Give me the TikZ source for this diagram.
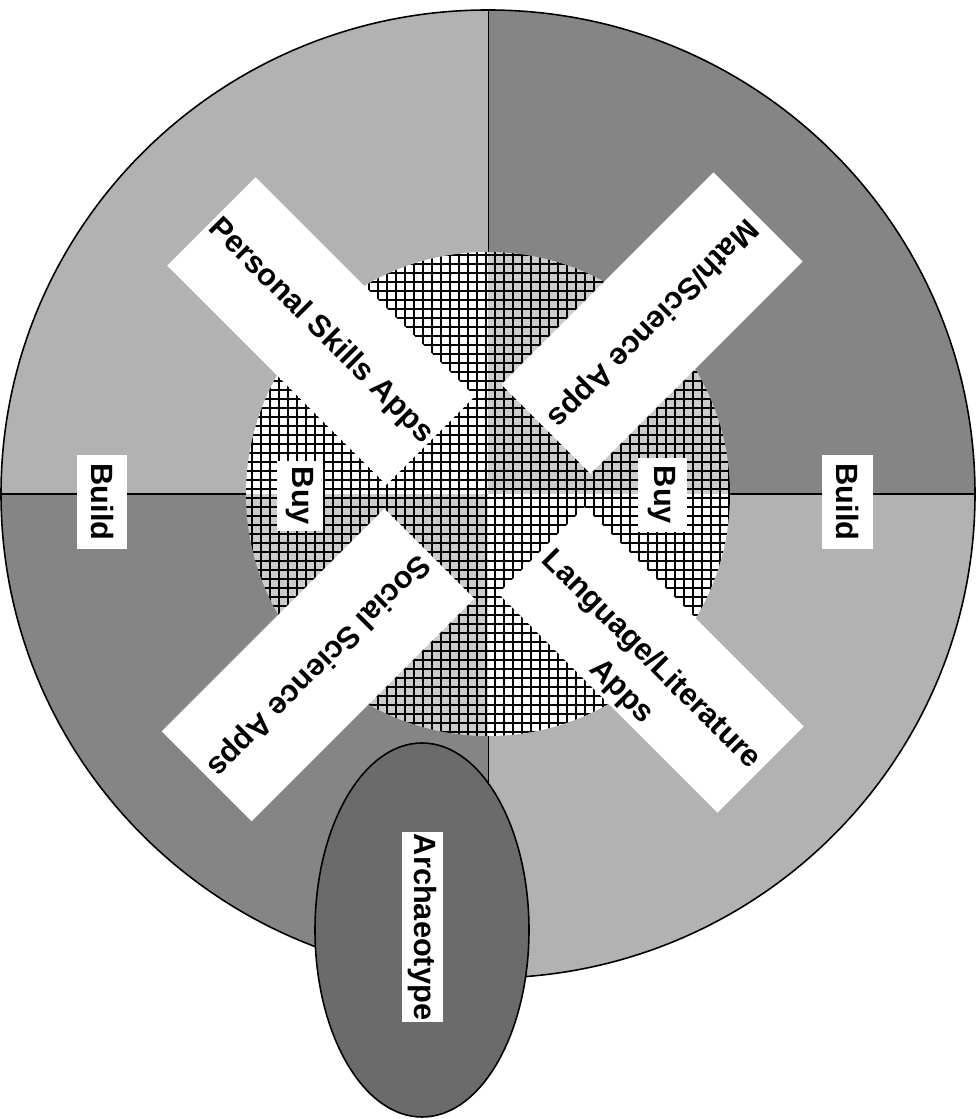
\documentclass[tikz,border=0pt]{standalone}
\usepackage{fontspec}
\setmainfont{Liberation Sans}
\usepackage{tikz}
\definecolor{lightshade}{gray}{0.70}
\definecolor{darkshade}{gray}{0.52}
\definecolor{dotshade}{gray}{0.80}
\definecolor{eggshade}{gray}{0.42}

\begin{document}
\begin{tikzpicture}[x=0.02cm, y=0.02cm,
    appbox/.style={fill=white, inner sep=0pt, font=\bfseries\fontsize{17.5}{20}\selectfont},
    tagbox/.style={fill=white, inner sep=0pt, rotate=-90, font=\bfseries\fontsize{17.5}{20}\selectfont}]
  \useasboundingbox (0,0) rectangle (977,1119);
  % Outer disc, four shaded quarters
  \coordinate (c) at (488,625);
  \begin{scope}
    \clip (c) ellipse [x radius=487, y radius=484];
    \fill[lightshade] (c) rectangle (0,1119);
    \fill[darkshade] (c) rectangle (977,1119);
    \fill[darkshade] (c) rectangle (0,0);
    \fill[lightshade] (c) rectangle (977,0);
    \draw[line width=0.6pt] (0,625) -- (977,625);
    \draw[line width=0.4pt] (488,0) -- (488,1119);
  \end{scope}
  \draw[line width=0.9pt] (c) ellipse [x radius=487, y radius=484];
  % Inner disc, cross-hatched
  \begin{scope}
    \clip (c) circle [radius=242];
    \fill[white] (c) rectangle (0,1119);
    \fill[dotshade] (c) rectangle (977,1119);
    \fill[dotshade] (c) rectangle (0,0);
    \fill[white] (c) rectangle (977,0);
    \draw[line width=1.4pt, step=9] (236,373) grid (740,877);
  \end{scope}
  % Diagonal app boxes
  \node[appbox, rotate=-45, minimum width=6.2cm, minimum height=2.5cm] (personal) at (321,788) {Personal Skills Apps};
  \node[appbox, rotate=-135, minimum width=6.0cm, minimum height=2.52cm] (math) at (652,796) {Math/Science Apps};
  \node[appbox, rotate=-135, minimum width=6.3cm, minimum height=2.54cm] (social) at (318,454) {Social Science Apps};
  \node[appbox, rotate=-45, minimum width=6.2cm, minimum height=2.44cm] (language) at (651,459) {Language/Literature};
  \node[appbox, rotate=-45, fill=none] (languageapps) at ([shift={(-30,-32)}]language.center) {Apps};
  % Buy / Build tags
  \node[tagbox, minimum width=1.4cm, minimum height=0.94cm] (buyleft) at (300,623) {Buy};
  \node[tagbox, minimum width=1.48cm, minimum height=0.98cm] (buyright) at (662,624) {Buy};
  \node[tagbox, minimum width=1.9cm, minimum height=1.0cm] (buildleft) at (102,617) {Build};
  \node[tagbox, minimum width=1.9cm, minimum height=1.02cm] (buildright) at (847,617) {Build};
  % Archaeotype
  \draw[fill=eggshade, line width=0.9pt] (422,189) ellipse [x radius=107, y radius=187];
  \node[tagbox, minimum width=3.8cm, minimum height=0.82cm] (archaeotype) at (422,192) {Archaeotype};
\end{tikzpicture}
\end{document}
